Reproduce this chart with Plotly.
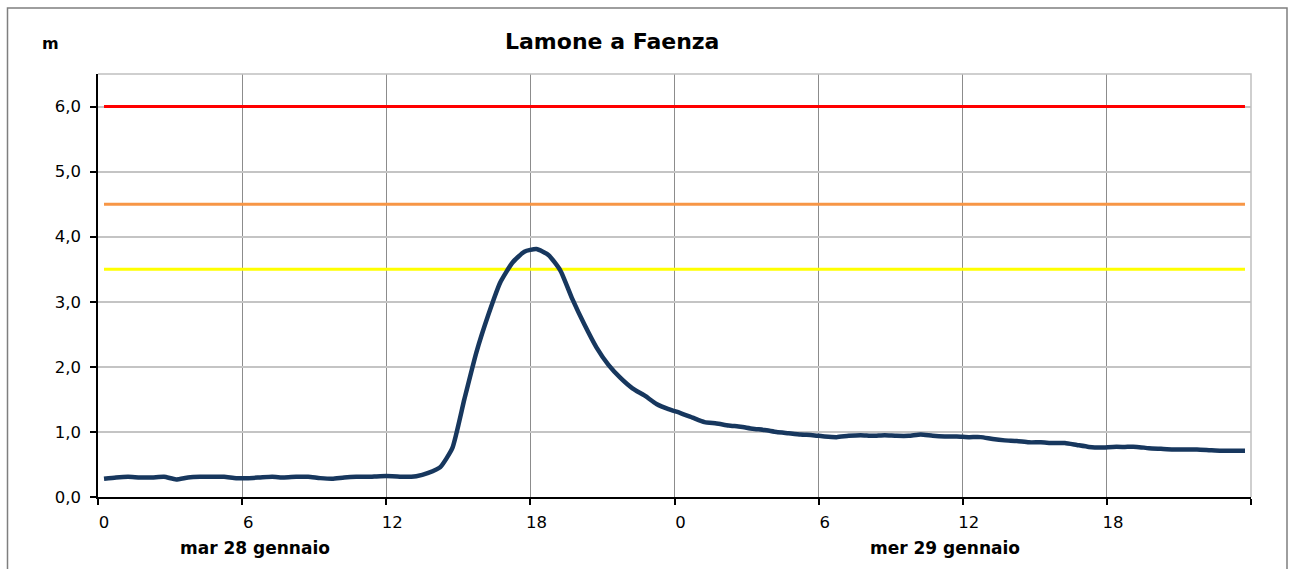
import plotly.graph_objects as go

# ---- data ----
hours = [0.25 + 0.5 * i for i in range(96)]
livello = [
    0.28, 0.30, 0.31, 0.30, 0.30, 0.31, 0.27, 0.30, 0.31, 0.31, 0.31, 0.29,
    0.29, 0.30, 0.31, 0.30, 0.31, 0.31, 0.29, 0.28, 0.30, 0.31, 0.31, 0.32,
    0.32, 0.31, 0.32, 0.37, 0.46, 0.75, 1.50, 2.22, 2.80, 3.30, 3.60, 3.77,
    3.81, 3.72, 3.48, 3.04, 2.65, 2.30, 2.03, 1.83, 1.67, 1.56, 1.43, 1.35,
    1.29, 1.22, 1.15, 1.13, 1.10, 1.08, 1.05, 1.03, 1.00, 0.98, 0.96, 0.95,
    0.93, 0.92, 0.94, 0.95, 0.94, 0.95, 0.94, 0.94, 0.96, 0.94, 0.93, 0.93,
    0.92, 0.92, 0.89, 0.87, 0.86, 0.84, 0.84, 0.83, 0.83, 0.80, 0.77, 0.76,
    0.77, 0.77, 0.77, 0.75, 0.74, 0.73, 0.73, 0.73, 0.72, 0.71, 0.71, 0.71,
]
soglie = [3.5, 4.5, 6.0]
soglie_colori = ["#FFFF00", "#F79646", "#FF0000"]
x_tickvals = [0, 6, 12, 18, 24, 30, 36, 42, 48]
x_ticktext = ["0", "6", "12", "18", "0", "6", "12", "18", ""]
y_tickvals = [0, 1, 2, 3, 4, 5, 6]
giorni = ["mar 28 gennaio", "mer 29 gennaio"]
titolo = "Lamone a Faenza"
unita = "m"

FONT = "DejaVu Sans, Arial, sans-serif"

fig = go.Figure()

for s, c in zip(soglie, soglie_colori):
    fig.add_trace(go.Scatter(
        x=[hours[0], hours[-1]], y=[s, s], mode="lines",
        line=dict(color=c, width=3), hoverinfo="skip"))

fig.add_trace(go.Scatter(
    x=hours, y=livello, mode="lines",
    line=dict(color="#17375E", width=4.5, shape="spline", smoothing=0.5)))

L, R, T, B = 98, 41, 74, 72
W, H = 1292, 569
pw, ph = W - L - R, H - T - B

def px_x(p):
    return (p - L) / pw

def px_y(p):
    return (H - B - p) / ph

fig.update_layout(
    width=W, height=H,
    margin=dict(l=L, r=R, t=T, b=B),
    paper_bgcolor="white", plot_bgcolor="white",
    showlegend=False,
    separators=",.",
    font=dict(family=FONT, size=16, color="black"),
    xaxis=dict(
        range=[0, 48], tickvals=x_tickvals, ticktext=x_ticktext,
        showgrid=True, gridcolor="#8C8C8C", gridwidth=1,
        showline=True, linecolor="black", linewidth=1.5,
        ticks="outside", ticklen=6, tickcolor="black", tickwidth=1.5,
        ticklabelshift=6, ticklabelstandoff=3,
        zeroline=False, tickfont=dict(size=16.5, family=FONT)),
    yaxis=dict(
        range=[0, 6.5], tickvals=y_tickvals, tickformat=".1f",
        showgrid=True, gridcolor="#C4C4C4", gridwidth=1.5,
        showline=True, linecolor="black", linewidth=1.5,
        ticks="outside", ticklen=6, tickcolor="black", tickwidth=1.5,
        ticklabelstandoff=6,
        zeroline=False, tickfont=dict(size=16.5, family=FONT)),
    shapes=[
        dict(type="path", xref="paper", yref="paper",
             path="M 0,1 L 1,1 L 1,0",
             line=dict(color="#C0C0C0", width=1.5), layer="above"),
        dict(type="rect", xref="paper", yref="paper",
             x0=px_x(7.5), x1=px_x(1287), y0=px_y(8), y1=px_y(580),
             line=dict(color="#7F7F7F", width=1.5)),
    ],
    annotations=[
        dict(text="<b>" + titolo + "</b>", xref="paper", yref="paper",
             x=px_x(612), y=px_y(41), showarrow=False,
             font=dict(size=22, family=FONT), xanchor="center", yanchor="middle"),
        dict(text="<b>" + unita + "</b>", xref="paper", yref="paper",
             x=px_x(50), y=px_y(44), showarrow=False,
             font=dict(size=16, family=FONT), xanchor="center", yanchor="middle"),
        dict(text="<b>" + giorni[0] + "</b>", xref="paper", yref="paper",
             x=px_x(255), y=px_y(548), showarrow=False,
             font=dict(size=17, family=FONT), xanchor="center", yanchor="middle"),
        dict(text="<b>" + giorni[1] + "</b>", xref="paper", yref="paper",
             x=px_x(945), y=px_y(548), showarrow=False,
             font=dict(size=17, family=FONT), xanchor="center", yanchor="middle"),
    ],
)

fig.write_html(
    "out.html",
    config={"displayModeBar": False},
    post_script="document.body.style.margin='0';document.body.style.padding='0';",
)
